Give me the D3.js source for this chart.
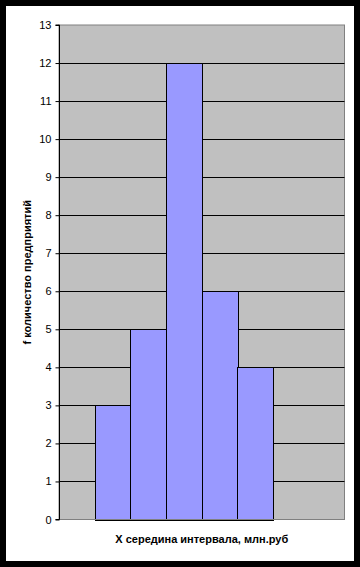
<!DOCTYPE html>
<html><head><meta charset="utf-8">
<script src="https://cdn.jsdelivr.net/npm/d3@7"></script>
<style>html,body{margin:0;padding:0;background:#000;}svg{display:block;}</style>
</head><body>
<script>
const categories = ["c0","c1","c2","c3","c4","c5","c6","c7"];
const values = [null, 3, 5, 12, 6, 4, null, null];
const yTicks = d3.range(0, 14);
const xTitle = "X середина интервала, млн.руб";
const yTitle = "f количество предприятий";

const W = 360, H = 567;
const svg = d3.select("body").append("svg").attr("width", W).attr("height", H);
svg.append("rect").attr("x",0).attr("y",0).attr("width",W).attr("height",H).attr("fill","#000");
svg.append("rect").attr("x",6).attr("y",6).attr("width",348).attr("height",555).attr("fill","#fff");

const L = 59, T = 25, R = 344.5, B = 519.5;
const x = d3.scaleBand().domain(categories).range([L, R]).padding(0);
const y = d3.scaleLinear().domain([0, 13]).range([B, T]);

svg.append("rect").attr("x",L).attr("y",T).attr("width",R-L).attr("height",B-T)
  .attr("fill","#c0c0c0").attr("stroke","#808080").attr("stroke-width",1);

// gridlines
svg.append("g").selectAll("line").data(yTicks.filter(d=>d>0 && d<13)).join("line")
  .attr("x1",L).attr("x2",R).attr("y1",d=>Math.round(y(d))+0.5).attr("y2",d=>Math.round(y(d))+0.5)
  .attr("stroke","#000").attr("stroke-width",1);

// bars
svg.append("g").selectAll("rect").data(categories.map((c,i)=>({c,v:values[i]})).filter(d=>d.v!=null)).join("rect")
  .attr("x",d=>Math.round(x(d.c))+0.5).attr("width",d=>Math.round(x.bandwidth()))
  .attr("y",d=>Math.round(y(d.v))+0.5).attr("height",d=>Math.round(y(0))-Math.round(y(d.v)))
  .attr("fill","#9999ff").attr("stroke","#000").attr("stroke-width",1);

// bottom axis line (gray)
svg.append("line").attr("x1",L).attr("x2",R).attr("y1",Math.round(B)+0.5-1).attr("y2",Math.round(B)+0.5-1)
  .attr("stroke","#808080");

// left axis
const yAxis = d3.axisLeft(y).tickValues(yTicks).tickSize(4).tickPadding(4).tickFormat(d3.format("d"));
const ga = svg.append("g").attr("transform",`translate(${L+0.5},0)`).call(yAxis);
ga.select(".domain").attr("stroke","#000").attr("d",`M-4,${T}H0V${B}H-4`);
ga.selectAll(".tick line").attr("stroke","#000");
ga.selectAll(".tick text").attr("fill","#000").style("font-family","Liberation Sans, Arial, sans-serif").style("font-size","11px");

svg.append("text").attr("x",(L+R)/2).attr("y",543).attr("text-anchor","middle")
  .style("font-family","Liberation Sans, Arial, sans-serif").style("font-size","11px").style("font-weight","bold")
  .text(xTitle);
svg.append("text").attr("transform",`translate(31,${(T+B)/2}) rotate(-90)`).attr("text-anchor","middle")
  .style("font-family","Liberation Sans, Arial, sans-serif").style("font-size","11px").style("font-weight","bold")
  .text(yTitle);
</script>
</body></html>
